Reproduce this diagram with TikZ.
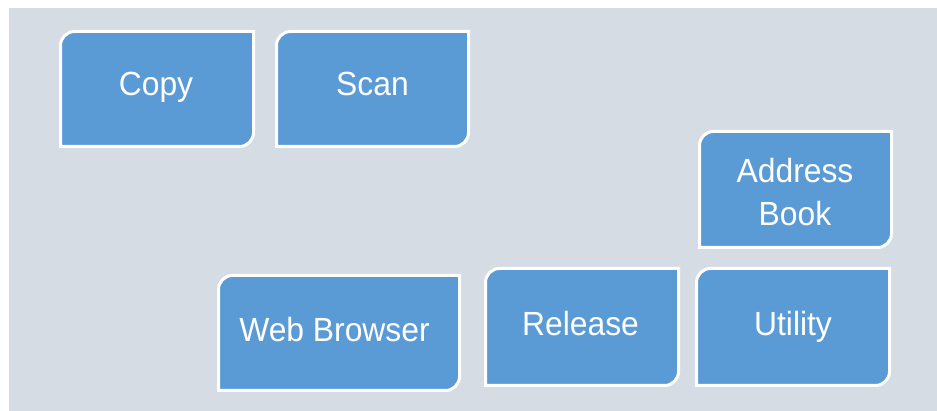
\documentclass[tikz,border=0pt]{standalone}
\usepackage{fontspec}
\setmainfont{Liberation Sans}
\newfontfamily\tilefont[FakeStretch=0.95]{Liberation Sans}
\definecolor{panel}{HTML}{D6DCE4}
\definecolor{tile}{HTML}{5B9BD5}
\begin{document}
\begin{tikzpicture}[x=1pt,y=-1pt,
  tilebox/.style={inner sep=0pt, outer sep=0pt},
  tiletext/.style={inner sep=0pt, outer sep=0pt, anchor=base, text=white,
    align=center, font=\tilefont\fontsize{33.5}{43}\selectfont},
  tileline/.style={fill=tile, draw=white, line width=3pt}]
  % canvas and panel
  \useasboundingbox (0,0) rectangle (937,411);
  \fill[white] (0,0) rectangle (937,411);
  \fill[panel] (9,8) rectangle (937,411);

  % tile frames (named nodes give the geometry)
  \node[tilebox, minimum width=193pt, minimum height=115pt] (copy)    at (157,89)    {};
  \node[tilebox, minimum width=192pt, minimum height=115pt] (scan)    at (372.5,89)  {};
  \node[tilebox, minimum width=192pt, minimum height=116pt] (addr)    at (795.5,189.5) {};
  \node[tilebox, minimum width=241pt, minimum height=115pt] (web)     at (339,333)   {};
  \node[tilebox, minimum width=193pt, minimum height=117pt] (release) at (582,327)   {};
  \node[tilebox, minimum width=193pt, minimum height=117pt] (utility) at (793,327)   {};

  % shape: rounded top-left and bottom-right corners
  \foreach \n in {copy,scan,addr,web,release,utility}{
    \draw[tileline] (\n.south west) -- ([yshift=-14pt]\n.north west)
      .. controls ([yshift=-6.3pt]\n.north west) and ([xshift=6.3pt]\n.north west)
      .. ([xshift=14pt]\n.north west)
      -- (\n.north east) -- ([yshift=14pt]\n.south east)
      .. controls ([yshift=6.3pt]\n.south east) and ([xshift=-6.3pt]\n.south east)
      .. ([xshift=-14pt]\n.south east) -- cycle;
  }

  % labels (placed by baseline)
  \node[tiletext] (copyt)    at (156,96)      {Copy};
  \node[tiletext] (scant)    at (372.5,96)    {Scan};
  \node[tiletext, anchor=north] (addrt) at (795,158) {Address\\Book};
  \node[tiletext] (webt)     at (334.5,342)   {Web Browser};
  \node[tiletext] (releaset) at (580.5,335.5) {Release};
  \node[tiletext] (utilityt) at (793,335.5)   {Utility};
\end{tikzpicture}
\end{document}
